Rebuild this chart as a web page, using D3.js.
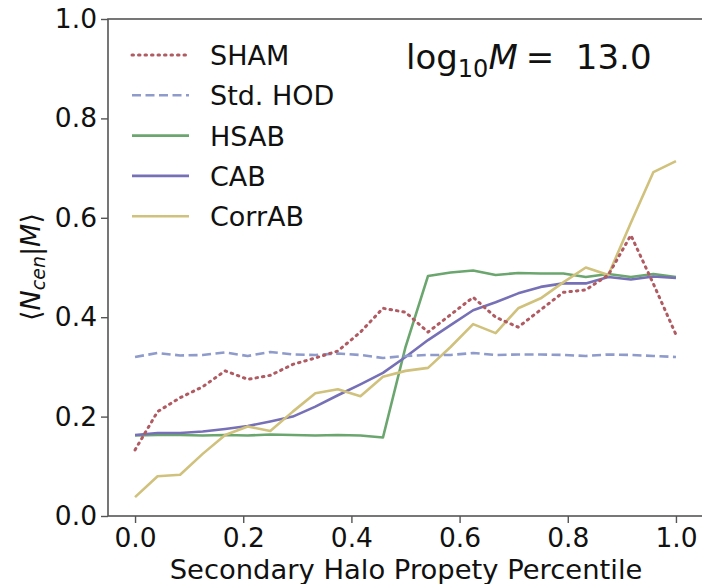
<!DOCTYPE html>
<html>
<head>
<meta charset="utf-8">
<script src="https://cdn.jsdelivr.net/npm/d3@7"></script>
<style>
  body { margin: 0; background: #fff; }
  text { font-family: "DejaVu Sans", sans-serif; fill: #111; }
</style>
</head>
<body>
<script>
const width = 702, height = 584;

// percentile bins, 25 of them from 0 to 1
const percentiles = d3.range(25).map(i => i / 24);

const sham = [0.133, 0.21, 0.238, 0.26, 0.292, 0.275, 0.283, 0.305, 0.318, 0.332, 0.37, 0.418, 0.41,
    0.37, 0.405, 0.44, 0.40, 0.38, 0.415, 0.45, 0.455, 0.485, 0.565, 0.467, 0.365];
const stdHod = [0.32, 0.328, 0.323, 0.324, 0.329, 0.322, 0.33, 0.325, 0.324, 0.327, 0.324, 0.318, 0.322,
    0.324, 0.324, 0.328, 0.324, 0.325, 0.325, 0.324, 0.322, 0.325, 0.324, 0.322, 0.32];
const hsab = [0.162, 0.163, 0.163, 0.162, 0.163, 0.162, 0.164, 0.163, 0.162, 0.163, 0.162, 0.158, 0.34,
    0.483, 0.49, 0.494, 0.485, 0.489, 0.488, 0.488, 0.481, 0.487, 0.481, 0.487, 0.481];
const cab = [0.163, 0.167, 0.167, 0.17, 0.175, 0.181, 0.19, 0.2, 0.22, 0.243, 0.265, 0.288, 0.32,
    0.354, 0.384, 0.414, 0.43, 0.448, 0.461, 0.468, 0.468, 0.481, 0.476, 0.482, 0.479];
const corrAb = [0.038, 0.08, 0.083, 0.125, 0.163, 0.18, 0.171, 0.21, 0.247, 0.255, 0.241, 0.28, 0.292,
    0.298, 0.34, 0.386, 0.368, 0.418, 0.438, 0.47, 0.50, 0.485, 0.59, 0.692, 0.714];

const xTicks = [0.0, 0.2, 0.4, 0.6, 0.8, 1.0];
const yTicks = [0.0, 0.2, 0.4, 0.6, 0.8, 1.0];

const series = [
    { name: "SHAM", values: sham, color: "#b05a62", dash: "1.5,5", cap: "round" },
    { name: "Std. HOD", values: stdHod, color: "#8e9bcb", dash: "9,4.5", cap: "butt" },
    { name: "HSAB", values: hsab, color: "#6aa66e", dash: null, cap: "butt" },
    { name: "CAB", values: cab, color: "#7670b6", dash: null, cap: "butt" },
    { name: "CorrAB", values: corrAb, color: "#d0c17c", dash: null, cap: "butt" }
];

const svg = d3.select("body").append("svg").attr("width", width).attr("height", height);

const x = d3.scaleLinear().domain([-0.05, 1.05]).range([108, 703]);
const y = d3.scaleLinear().domain([0, 1]).range([516, 19]);

// lines (corrAB and the dotted/dashed ones on top)
const line = d3.line().x((d, i) => x(percentiles[i])).y(d => y(d));
const drawOrder = [2, 3, 4, 1, 0];
drawOrder.forEach(k => {
    const s = series[k];
    svg.append("path")
        .datum(s.values)
        .attr("d", line)
        .attr("fill", "none")
        .attr("stroke", s.color)
        .attr("stroke-width", s.cap === "round" ? 3 : 2.6)
        .attr("stroke-linecap", s.cap)
        .attr("stroke-linejoin", "round")
        .attr("stroke-dasharray", s.dash);
});

// frame
svg.append("rect")
    .attr("x", x.range()[0]).attr("y", y.range()[1])
    .attr("width", x.range()[1] - x.range()[0])
    .attr("height", y.range()[0] - y.range()[1])
    .attr("fill", "none").attr("stroke", "#555").attr("stroke-width", 1.6);

// axes
const xAxis = svg.append("g").attr("transform", `translate(0,${y(0)})`)
    .call(d3.axisBottom(x).tickValues(xTicks).tickFormat(d3.format(".1f")).tickSize(7).tickPadding(5));
const yAxis = svg.append("g").attr("transform", `translate(${x.range()[0]},0)`)
    .call(d3.axisLeft(y).tickValues(yTicks).tickFormat(d3.format(".1f")).tickSize(7).tickPadding(4));
[xAxis, yAxis].forEach(g => {
    g.select(".domain").remove();
    g.selectAll(".tick line").attr("stroke", "#555").attr("stroke-width", 1.4);
    g.selectAll(".tick text").attr("font-size", 26.5).attr("fill", "#111")
        .style("font-family", "DejaVu Sans, sans-serif");
});

// axis labels
svg.append("text")
    .attr("x", 406).attr("y", 579)
    .attr("text-anchor", "middle").attr("font-size", 27.4)
    .text("Secondary Halo Propety Percentile");

const yl = svg.append("text")
    .attr("transform", "translate(40,267) rotate(-90)")
    .attr("text-anchor", "middle").attr("font-size", 27);
yl.append("tspan").text("\u27E8");
yl.append("tspan").attr("font-style", "italic").text("N");
yl.append("tspan").attr("font-style", "italic").attr("font-size", 19).attr("dy", 5).text("cen");
yl.append("tspan").attr("dy", -5).text("|");
yl.append("tspan").attr("font-style", "italic").text("M");
yl.append("tspan").text("\u27E9");

// annotation
const ann = svg.append("text").attr("x", 406).attr("y", 69).attr("font-size", 34);
ann.append("tspan").text("log");
ann.append("tspan").attr("font-size", 24).attr("dy", 8).text("10");
ann.append("tspan").attr("dy", -8).attr("font-style", "italic").text("M");
ann.append("tspan").attr("dx", 8).text("=\u00A0\u00A013.0");

// legend
const legend = svg.append("g");
series.forEach((s, i) => {
    const ly = 55 + i * 40.3;
    legend.append("line")
        .attr("x1", 132).attr("x2", 189).attr("y1", ly).attr("y2", ly)
        .attr("stroke", s.color).attr("stroke-width", s.cap === "round" ? 3 : 2.6)
        .attr("stroke-linecap", s.cap)
        .attr("stroke-dasharray", s.dash);
    legend.append("text")
        .attr("x", 210).attr("y", ly + 10)
        .attr("font-size", 27)
        .text(s.name);
});
</script>
</body>
</html>
